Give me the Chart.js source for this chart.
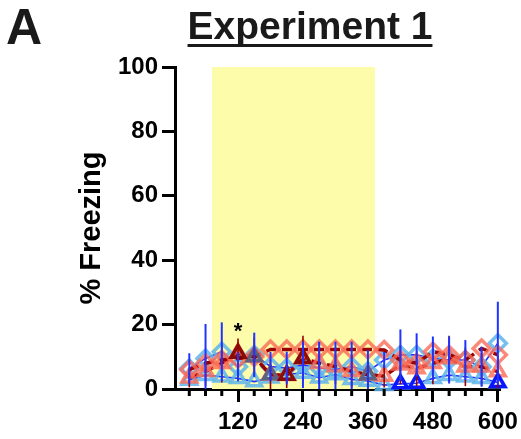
<!DOCTYPE html>
<html>
<head>
<meta charset="utf-8">
<script src="https://cdn.jsdelivr.net/npm/chart.js@4"></script>
<style>
  html, body { margin: 0; padding: 0; background: #fff; }
  #wrap { width: 521px; height: 439px; }
</style>
</head>
<body>
<div id="wrap"><canvas id="freezeChart" width="521" height="439"></canvas></div>
<script>
// Tempos (s) e ticks
const times = [30, 60, 90, 120, 150, 180, 210, 240, 270, 300, 330, 360, 390, 420, 450, 480, 510, 540, 570, 600];
const xMajor = [120, 240, 360, 480, 600];
const toneStart = 72, toneEnd = 373; // faixa amarela

// Grupos (% freezing)
const blueDiamond = [6.4, 9.5, 11.6, 6.9, 10.6, 7.0, 6.5, 7.5, 6.5, 6.0, 7.0, 5.5, 9.0, 10.6, 10.6, 9.5, 9.0, 9.0, 6.9, 14.2];
const blueDiamondErr = [4.7, 10.7, 9.1, 4.5, 6.9, 4.5, 5.1, 7.2, 8.2, 8.7, 7.7, 6.6, 2.5, 7.9, 6.7, 6.8, 7.3, 6.2, 6.2, 12.9];
const blueTri = [2.8, 4.3, 3.8, 3.3, 2.3, 3.5, 4.5, 5.0, 3.5, 4.5, 3.0, 2.5, 1.2, 1.6, 1.8, 3.3, 4.3, 3.8, 3.3, 2.0];
const redDiamond = [6.0, 8.0, 9.0, 9.5, 10.0, 12.3, 12.3, 12.3, 12.3, 12.3, 12.3, 12.3, 12.1, 9.0, 8.0, 11.6, 10.6, 9.0, 12.6, 10.6];
const redTri = [3.5, 5.5, 8.0, 11.1, 10.0, 4.4, 4.3, 9.5, 8.0, 7.0, 5.5, 4.4, 4.0, 7.5, 6.4, 8.0, 9.5, 6.9, 6.9, 5.4];
const redTriErr = [3.0, 4.5, 6.0, 4.6, 6.0, 4.5, 4.0, 7.0, 6.5, 5.5, 5.0, 4.0, 3.5, 6.0, 5.5, 6.5, 7.0, 6.0, 6.0, 5.0];
// marcadores escuros visiveis
const darkRedTri = [null, null, null, 11.1, null, null, 4.3, 9.5, null, null, null, null, null, null, null, null, null, null, null, null];
const slateTri = [null, null, null, null, 10.0, 4.4, null, null, null, null, null, 4.4, null, null, null, null, null, null, null, null];
const darkBlueTri = [null, null, null, null, null, null, null, null, null, null, null, null, null, 1.6, 1.8, null, null, null, null, 2.0];
const starTime = 120, starLevel = 19;

const lightBlue = "rgba(95, 180, 235, 0.85)";
const salmon = "rgba(250, 108, 88, 0.8)";
const lineBlue = "#1f35ff";
const darkRed = "#9a0000";

function pts(arr) {
  return times.map((t, i) => ({ x: t, y: arr[i] }));
}

Chart.defaults.font.family = "'Liberation Sans', Arial, sans-serif";
Chart.defaults.color = "#000";

// Faixa amarela, barras de erro, ticks menores, titulo
const decor = {
  id: "decor",
  beforeDatasetsDraw(chart) {
    const { ctx, scales: { x, y } } = chart;
    ctx.save();
    ctx.fillStyle = "#fcfcaa";
    const x0 = x.getPixelForValue(toneStart), x1 = x.getPixelForValue(toneEnd);
    const y0 = y.getPixelForValue(100), y1 = y.getPixelForValue(0);
    ctx.fillRect(x0, y0, x1 - x0, y1 - y0);
    ctx.restore();
  },
  afterDatasetsDraw(chart) {
    const { ctx, scales: { x, y } } = chart;
    ctx.save();
    function bars(mean, err, color, width) {
      ctx.strokeStyle = color;
      ctx.lineWidth = width;
      times.forEach((t, i) => {
        const px = x.getPixelForValue(t);
        ctx.beginPath();
        ctx.moveTo(px, y.getPixelForValue(Math.max(0, mean[i] - err[i])));
        ctx.lineTo(px, y.getPixelForValue(mean[i] + err[i]));
        ctx.stroke();
      });
    }
    bars(redTri, redTriErr, darkRed, 1.6);
    bars(blueDiamond, blueDiamondErr, lineBlue, 2);
    ctx.fillStyle = "#000";
    ctx.font = "bold 22px 'Liberation Sans', Arial, sans-serif";
    ctx.textAlign = "center";
    ctx.textBaseline = "middle";
    ctx.fillText("*", x.getPixelForValue(starTime), y.getPixelForValue(starLevel) + 4);
    ctx.restore();
  },
  afterDraw(chart) {
    const { ctx, scales: { x } } = chart;
    ctx.save();
    // ticks menores
    ctx.strokeStyle = "#000";
    ctx.lineWidth = 3;
    times.filter(t => !xMajor.includes(t)).forEach(t => {
      const px = x.getPixelForValue(t);
      ctx.beginPath();
      ctx.moveTo(px, x.top);
      ctx.lineTo(px, x.top + 7);
      ctx.stroke();
    });
    // titulo
    ctx.fillStyle = "#1a1a1a";
    ctx.textBaseline = "alphabetic";
    ctx.font = "bold 39px 'Liberation Sans', Arial, sans-serif";
    ctx.textAlign = "center";
    const title = "Experiment 1";
    const w = ctx.measureText(title).width;
    ctx.fillText(title, 310, 39);
    ctx.fillRect(310 - w / 2, 44, w, 3);
    ctx.font = "bold 50px 'Liberation Sans', Arial, sans-serif";
    ctx.textAlign = "left";
    ctx.fillText("A", 6, 44);
    ctx.restore();
  }
};

const ctx = document.getElementById("freezeChart").getContext("2d");
new Chart(ctx, {
  type: "line",
  data: {
    datasets: [
      {
        label: "dark blue tri", data: pts(darkBlueTri), showLine: false,
        pointStyle: "triangle", pointRadius: 8, pointBorderWidth: 3.5,
        pointBorderColor: "#0a14ff", pointBackgroundColor: "rgba(0,0,0,0)", order: 0
      },
      {
        label: "dark red tri", data: pts(darkRedTri), showLine: false,
        pointStyle: "triangle", pointRadius: 8, pointBorderWidth: 3.5,
        pointBorderColor: "rgba(125, 0, 0, 0.9)", pointBackgroundColor: "rgba(0,0,0,0)", order: 1
      },
      {
        label: "slate tri", data: pts(slateTri), showLine: false,
        pointStyle: "triangle", pointRadius: 8, pointBorderWidth: 3.5,
        pointBorderColor: "rgba(80, 95, 130, 0.9)", pointBackgroundColor: "rgba(0,0,0,0)", order: 2
      },
      {
        label: "red diamond", data: pts(redDiamond),
        borderColor: darkRed, borderWidth: 3.5, borderDash: [10, 6], tension: 0,
        pointStyle: "rectRot", pointRadius: 8.5, pointBorderWidth: 3.5,
        pointBorderColor: salmon, pointBackgroundColor: "rgba(0,0,0,0)", order: 3
      },
      {
        label: "red tri", data: pts(redTri),
        borderColor: darkRed, borderWidth: 3.5, borderDash: [10, 6], tension: 0,
        pointStyle: "triangle", pointRadius: 8.5, pointBorderWidth: 3.5,
        pointBorderColor: salmon, pointBackgroundColor: "rgba(0,0,0,0)", order: 4
      },
      {
        label: "blue diamond", data: pts(blueDiamond),
        borderColor: lineBlue, borderWidth: 1.6, tension: 0,
        pointStyle: "rectRot", pointRadius: 8.5, pointBorderWidth: 3.5,
        pointBorderColor: lightBlue, pointBackgroundColor: "rgba(0,0,0,0)", order: 5
      },
      {
        label: "blue tri", data: pts(blueTri),
        borderColor: lineBlue, borderWidth: 1.6, tension: 0,
        pointStyle: "triangle", pointRadius: 8.5, pointBorderWidth: 3.5,
        pointBorderColor: lightBlue, pointBackgroundColor: "rgba(0,0,0,0)", order: 6
      }
    ]
  },
  options: {
    responsive: false,
    animation: false,
    clip: false,
    layout: { padding: { top: 67, right: 21, left: 0, bottom: 0 } },
    plugins: { legend: { display: false }, tooltip: { enabled: false } },
    scales: {
      x: {
        type: "linear",
        min: 3.6,
        max: 604,
        afterBuildTicks(s) { s.ticks = xMajor.map(v => ({ value: v })); },
        ticks: { autoSkip: false, maxRotation: 0, padding: 6, color: "#000", font: { size: 24, weight: "bold" } },
        grid: { drawOnChartArea: false, tickLength: 13, tickWidth: 3, tickColor: "#000" },
        border: { width: 3, color: "#000" },
        afterFit(s) { s.height = 50; s.paddingLeft = 0; s.paddingRight = 0; }
      },
      y: {
        min: 0,
        max: 100,
        ticks: { stepSize: 20, padding: 4, color: "#000", font: { size: 24, weight: "bold" } },
        grid: { drawOnChartArea: false, tickLength: 13, tickWidth: 3, tickColor: "#000" },
        border: { width: 3, color: "#000" },
        title: { display: true, text: "% Freezing", color: "#000", font: { size: 29, weight: "bold" }, padding: { top: 75, bottom: 0 } },
        afterFit(s) { s.width = 175; }
      }
    }
  },
  plugins: [decor]
});
</script>
</body>
</html>
